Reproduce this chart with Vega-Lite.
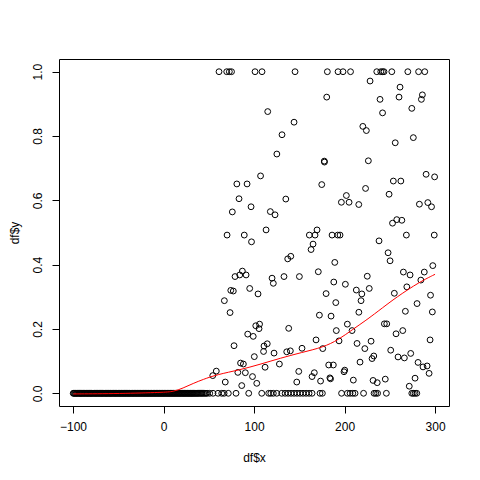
{
  "$schema": "https://vega.github.io/schema/vega-lite/v6.json",
  "width": 390,
  "height": 347,
  "autosize": {"type": "none"},
  "padding": {"left": 59, "top": 59, "right": 31, "bottom": 74},
  "background": "white",
  "config": {
    "view": {"stroke": "#000", "strokeWidth": 1},
    "axis": {
      "grid": false, "domain": false, "tickColor": "#000", "tickSize": 7, "tickWidth": 1,
      "labelColor": "#000", "labelFont": "Liberation Sans", "labelFontSize": 12,
      "titleColor": "#000", "titleFont": "Liberation Sans", "titleFontSize": 12, "titleFontWeight": "normal"
    }
  },
  "datasets": {
    "pts": [
      {"x":-99.8,"y":0},{"x":-98.2,"y":0},{"x":-96.5,"y":0},{"x":-95.1,"y":0},{"x":-93.0,"y":0},{"x":-91.7,"y":0},{"x":-90.2,"y":0},{"x":-88.4,"y":0},{"x":-86.9,"y":0},{"x":-85.0,"y":0},
      {"x":-83.6,"y":0},{"x":-81.8,"y":0},{"x":-80.3,"y":0},{"x":-78.9,"y":0},{"x":-77.0,"y":0},{"x":-75.4,"y":0},{"x":-73.9,"y":0},{"x":-72.1,"y":0},{"x":-70.6,"y":0},{"x":-68.8,"y":0},
      {"x":-67.5,"y":0},{"x":-65.7,"y":0},{"x":-64.0,"y":0},{"x":-62.6,"y":0},{"x":-60.9,"y":0},{"x":-59.2,"y":0},{"x":-57.8,"y":0},{"x":-56.1,"y":0},{"x":-54.4,"y":0},{"x":-52.9,"y":0},
      {"x":-51.3,"y":0},{"x":-49.6,"y":0},{"x":-48.0,"y":0},{"x":-46.5,"y":0},{"x":-44.8,"y":0},{"x":-43.2,"y":0},{"x":-41.7,"y":0},{"x":-40.0,"y":0},{"x":-38.4,"y":0},{"x":-36.9,"y":0},
      {"x":-35.1,"y":0},{"x":-33.6,"y":0},{"x":-32.0,"y":0},{"x":-30.3,"y":0},{"x":-28.8,"y":0},{"x":-27.1,"y":0},{"x":-25.5,"y":0},{"x":-23.9,"y":0},{"x":-22.2,"y":0},{"x":-20.7,"y":0},
      {"x":-19.0,"y":0},{"x":-17.4,"y":0},{"x":-15.8,"y":0},{"x":-14.1,"y":0},{"x":-12.6,"y":0},{"x":-10.9,"y":0},{"x":-9.3,"y":0},{"x":-7.7,"y":0},{"x":-6.0,"y":0},{"x":-4.5,"y":0},
      {"x":-2.8,"y":0},{"x":-1.2,"y":0},{"x":0.4,"y":0},{"x":2.0,"y":0},{"x":3.7,"y":0},{"x":5.3,"y":0},{"x":6.9,"y":0},{"x":8.6,"y":0},{"x":10.2,"y":0},{"x":11.8,"y":0},
      {"x":13.4,"y":0},{"x":15.1,"y":0},{"x":16.7,"y":0},{"x":18.3,"y":0},{"x":20.0,"y":0},{"x":21.6,"y":0},{"x":23.2,"y":0},{"x":24.8,"y":0},{"x":26.5,"y":0},{"x":28.1,"y":0},
      {"x":29.8,"y":0},{"x":31.4,"y":0},{"x":33.1,"y":0},{"x":34.9,"y":0},{"x":36.8,"y":0},{"x":38.6,"y":0},{"x":40.9,"y":0},{"x":43.0,"y":0},{"x":45.6,"y":0},{"x":48.2,"y":0},{"x":51.0,"y":0},
      {"x":-99.1,"y":0},{"x":-97.4,"y":0},{"x":-95.7,"y":0},{"x":-94.0,"y":0},{"x":-92.4,"y":0},{"x":-90.9,"y":0},{"x":-89.3,"y":0},{"x":-87.6,"y":0},{"x":-85.9,"y":0},{"x":-84.3,"y":0},
      {"x":-82.7,"y":0},{"x":-81.0,"y":0},{"x":-79.6,"y":0},{"x":-77.9,"y":0},{"x":-76.2,"y":0},{"x":-74.6,"y":0},{"x":-73.0,"y":0},{"x":-71.3,"y":0},{"x":-69.7,"y":0},{"x":-68.1,"y":0},
      {"x":-66.6,"y":0},{"x":-64.8,"y":0},{"x":-63.3,"y":0},{"x":-61.7,"y":0},{"x":-60.0,"y":0},{"x":-58.5,"y":0},{"x":-56.9,"y":0},{"x":-55.2,"y":0},{"x":-53.6,"y":0},{"x":-52.1,"y":0},
      {"x":-50.4,"y":0},{"x":-48.8,"y":0},{"x":-47.2,"y":0},{"x":-45.6,"y":0},{"x":-44.0,"y":0},{"x":-42.4,"y":0},{"x":-40.8,"y":0},{"x":-39.2,"y":0},{"x":-37.6,"y":0},{"x":-36.0,"y":0},
      {"x":-34.3,"y":0},{"x":-32.8,"y":0},{"x":-31.1,"y":0},{"x":-29.5,"y":0},{"x":-27.9,"y":0},{"x":-26.3,"y":0},{"x":-24.7,"y":0},{"x":-23.0,"y":0},{"x":-21.4,"y":0},{"x":-19.8,"y":0},
      {"x":-18.2,"y":0},{"x":-16.6,"y":0},{"x":-14.9,"y":0},{"x":-13.3,"y":0},{"x":-11.7,"y":0},{"x":-10.1,"y":0},{"x":-8.5,"y":0},{"x":-6.8,"y":0},{"x":-5.2,"y":0},{"x":-3.6,"y":0},
      {"x":-2.0,"y":0},{"x":-0.4,"y":0},{"x":1.2,"y":0},{"x":2.9,"y":0},{"x":4.5,"y":0},{"x":6.1,"y":0},{"x":7.7,"y":0},{"x":9.4,"y":0},{"x":11.0,"y":0},{"x":12.6,"y":0},
      {"x":14.2,"y":0},{"x":15.9,"y":0},{"x":17.5,"y":0},{"x":19.1,"y":0},{"x":20.8,"y":0},{"x":22.4,"y":0},{"x":24.0,"y":0},{"x":25.7,"y":0},{"x":27.3,"y":0},{"x":29.0,"y":0},
      {"x":30.6,"y":0},{"x":32.2,"y":0},{"x":34.0,"y":0},{"x":35.8,"y":0},{"x":37.7,"y":0},{"x":39.7,"y":0},{"x":42.0,"y":0},{"x":44.3,"y":0},{"x":46.9,"y":0},
      {"x":54.7,"y":0},{"x":60.2,"y":0},{"x":64.3,"y":0},{"x":66.9,"y":0},{"x":71.6,"y":0},{"x":80.1,"y":0},{"x":94.1,"y":0},{"x":108.5,"y":0},{"x":116.2,"y":0},{"x":118.5,"y":0},
      {"x":121.3,"y":0},{"x":125.1,"y":0},{"x":130.6,"y":0},{"x":134.3,"y":0},{"x":137.6,"y":0},{"x":140.9,"y":0},{"x":144.2,"y":0},{"x":147.5,"y":0},{"x":150.8,"y":0},{"x":154.1,"y":0},
      {"x":157.5,"y":0},{"x":160.8,"y":0},{"x":164.1,"y":0},{"x":172.9,"y":0},{"x":175.5,"y":0},{"x":196.7,"y":0},{"x":203.1,"y":0},{"x":206.1,"y":0},{"x":209.1,"y":0},{"x":211.6,"y":0},
      {"x":221.0,"y":0},{"x":232.6,"y":0},{"x":234.5,"y":0},{"x":236.5,"y":0},{"x":246.2,"y":0},{"x":274.3,"y":0},{"x":276.0,"y":0},{"x":277.9,"y":0},{"x":279.8,"y":0},
      {"x":61.3,"y":1},{"x":69.8,"y":1},{"x":72.7,"y":1},{"x":75.1,"y":1},{"x":101.1,"y":1},{"x":108.8,"y":1},{"x":145.3,"y":1},{"x":181.0,"y":1},{"x":192.8,"y":1},{"x":198.3,"y":1},
      {"x":206.6,"y":1},{"x":235.6,"y":1},{"x":240.0,"y":1},{"x":242.0,"y":1},{"x":243.6,"y":1},{"x":252.2,"y":1},{"x":269.9,"y":1},{"x":281.8,"y":1},{"x":288.6,"y":1},
      {"x":228.2,"y":0.971},{"x":261.3,"y":0.952},{"x":180.3,"y":0.921},{"x":239.2,"y":0.914},{"x":260.2,"y":0.921},{"x":286.0,"y":0.928},{"x":284.9,"y":0.914},{"x":274.3,"y":0.886},{"x":242.0,"y":0.872},{"x":115.1,"y":0.876},
      {"x":144.2,"y":0.843},{"x":220.2,"y":0.830},{"x":224.1,"y":0.817},{"x":130.9,"y":0.804},{"x":276.0,"y":0.795},{"x":256.0,"y":0.779},{"x":125.2,"y":0.744},{"x":177.6,"y":0.722},{"x":177.8,"y":0.719},{"x":226.3,"y":0.723},
      {"x":107.2,"y":0.676},{"x":290.1,"y":0.681},{"x":299.5,"y":0.673},{"x":174.8,"y":0.649},{"x":253.9,"y":0.660},{"x":262.2,"y":0.660},{"x":223.2,"y":0.637},{"x":135.1,"y":0.604},{"x":202.0,"y":0.615},{"x":196.5,"y":0.594},
      {"x":205.0,"y":0.594},{"x":215.7,"y":0.587},{"x":249.2,"y":0.619},{"x":282.7,"y":0.588},{"x":292.0,"y":0.593},{"x":296.1,"y":0.580},{"x":96.7,"y":0.580},{"x":118.0,"y":0.565},{"x":123.2,"y":0.555},{"x":253.0,"y":0.529},
      {"x":257.7,"y":0.540},{"x":263.3,"y":0.538},{"x":81.0,"y":0.651},{"x":92.3,"y":0.651},{"x":83.4,"y":0.605},{"x":76.0,"y":0.564},{"x":113.3,"y":0.508},{"x":70.2,"y":0.492},{"x":89.2,"y":0.492},{"x":97.2,"y":0.471},
      {"x":161.1,"y":0.492},{"x":167.4,"y":0.492},{"x":169.6,"y":0.508},{"x":186.2,"y":0.492},{"x":192.5,"y":0.492},{"x":195.0,"y":0.492},{"x":165.2,"y":0.464},{"x":163.0,"y":0.447},{"x":238.1,"y":0.474},{"x":268.3,"y":0.492},
      {"x":299.1,"y":0.492},{"x":87.1,"y":0.380},{"x":79.0,"y":0.363},{"x":84.2,"y":0.368},{"x":91.2,"y":0.368},{"x":119.9,"y":0.358},{"x":121.3,"y":0.342},{"x":74.3,"y":0.320},{"x":77.1,"y":0.318},{"x":95.2,"y":0.326},
      {"x":104.4,"y":0.309},{"x":67.2,"y":0.288},{"x":73.5,"y":0.251},{"x":101.9,"y":0.210},{"x":106.1,"y":0.215},{"x":105.5,"y":0.201},{"x":93.0,"y":0.184},{"x":99.1,"y":0.177},{"x":77.9,"y":0.148},{"x":114.6,"y":0.154},
      {"x":111.0,"y":0.147},{"x":110.5,"y":0.130},{"x":122.1,"y":0.125},{"x":100.3,"y":0.114},{"x":85.1,"y":0.094},{"x":88.2,"y":0.091},{"x":112.2,"y":0.081},{"x":128.0,"y":0.091},{"x":58.3,"y":0.069},{"x":54.4,"y":0.055},
      {"x":82.1,"y":0.065},{"x":90.4,"y":0.064},{"x":98.3,"y":0.052},{"x":68.2,"y":0.035},{"x":86.4,"y":0.024},{"x":103.0,"y":0.031},{"x":137.2,"y":0.418},{"x":140.6,"y":0.426},{"x":189.2,"y":0.407},{"x":248.1,"y":0.437},
      {"x":250.3,"y":0.412},{"x":297.5,"y":0.397},{"x":171.0,"y":0.378},{"x":265.0,"y":0.377},{"x":272.4,"y":0.368},{"x":288.1,"y":0.377},{"x":133.1,"y":0.363},{"x":150.1,"y":0.363},{"x":225.1,"y":0.364},{"x":188.1,"y":0.346},
      {"x":200.9,"y":0.339},{"x":284.3,"y":0.352},{"x":268.8,"y":0.331},{"x":179.6,"y":0.310},{"x":213.0,"y":0.321},{"x":219.1,"y":0.309},{"x":218.2,"y":0.288},{"x":227.3,"y":0.326},{"x":255.0,"y":0.311},{"x":190.3,"y":0.282},
      {"x":280.1,"y":0.279},{"x":295.0,"y":0.305},{"x":267.2,"y":0.255},{"x":297.0,"y":0.253},{"x":215.8,"y":0.252},{"x":172.2,"y":0.243},{"x":185.1,"y":0.240},{"x":244.0,"y":0.216},{"x":246.6,"y":0.216},{"x":203.1,"y":0.215},
      {"x":138.3,"y":0.202},{"x":208.3,"y":0.195},{"x":190.9,"y":0.195},{"x":264.3,"y":0.195},{"x":256.9,"y":0.185},{"x":168.5,"y":0.166},{"x":193.9,"y":0.163},{"x":213.8,"y":0.155},{"x":229.3,"y":0.162},{"x":294.5,"y":0.166},
      {"x":153.0,"y":0.140},{"x":136.1,"y":0.129},{"x":140.1,"y":0.132},{"x":175.9,"y":0.139},{"x":222.4,"y":0.139},{"x":251.0,"y":0.134},{"x":232.3,"y":0.116},{"x":230.4,"y":0.108},{"x":259.1,"y":0.113},{"x":266.1,"y":0.110},
      {"x":273.1,"y":0.124},{"x":217.1,"y":0.097},{"x":182.5,"y":0.088},{"x":187.6,"y":0.088},{"x":200.2,"y":0.072},{"x":199.4,"y":0.067},{"x":281.2,"y":0.096},{"x":286.7,"y":0.082},{"x":291.2,"y":0.085},{"x":293.4,"y":0.062},
      {"x":149.4,"y":0.068},{"x":166.6,"y":0.064},{"x":164.1,"y":0.052},{"x":183.8,"y":0.048},{"x":184.5,"y":0.045},{"x":231.5,"y":0.040},{"x":236.1,"y":0.033},{"x":245.0,"y":0.044},{"x":209.7,"y":0.041},{"x":277.9,"y":0.047},
      {"x":147.2,"y":0.035},{"x":173.5,"y":0.038},{"x":271.5,"y":0.022}
    ],
    "smooth": [
      {"x":-99.7,"y":-0.002},{"x":-48,"y":-0.001},{"x":0,"y":0.003},{"x":10.8,"y":0.005},{"x":21.5,"y":0.016},{"x":32.9,"y":0.031},{"x":43.6,"y":0.043},{"x":58.8,"y":0.058},{"x":84.5,"y":0.073},{"x":106.6,"y":0.090},
      {"x":128.7,"y":0.109},{"x":152.7,"y":0.127},{"x":176.2,"y":0.143},{"x":193.1,"y":0.166},{"x":209.7,"y":0.200},{"x":222.7,"y":0.225},{"x":235.6,"y":0.252},{"x":257.7,"y":0.300},{"x":283.4,"y":0.347},{"x":300,"y":0.370}
    ]
  },
  "layer": [
    {
      "data": {"name": "pts"},
      "mark": {"type": "point", "shape": "circle", "filled": false, "size": 34, "stroke": "#000", "strokeWidth": 1, "opacity": 1},
      "encoding": {
        "x": {"field": "x", "type": "quantitative", "scale": {"domain": [-115.5, 315.4], "nice": false, "zero": false},
          "axis": {"title": "df$x", "values": [-100, 0, 100, 200, 300], "labelPadding": 8, "titleX": 195, "titleY": 51, "titleBaseline": "middle", "titleAnchor": "middle"}},
        "y": {"field": "y", "type": "quantitative", "scale": {"domain": [-0.0395, 1.0395], "nice": false, "zero": false},
          "axis": {"title": "df$y", "values": [0, 0.2, 0.4, 0.6, 0.8, 1.0], "format": ".1f", "labelAngle": 270, "labelAlign": "center", "labelBaseline": "middle", "labelPadding": 15,
            "titleX": -45, "titleY": 173.5, "titleAngle": 270, "titleBaseline": "middle", "titleAlign": "center"}}
      }
    },
    {
      "data": {"name": "smooth"},
      "mark": {"type": "line", "color": "#FF0000", "strokeWidth": 1, "interpolate": "basis"},
      "encoding": {
        "x": {"field": "x", "type": "quantitative"},
        "y": {"field": "y", "type": "quantitative"}
      }
    }
  ]
}
